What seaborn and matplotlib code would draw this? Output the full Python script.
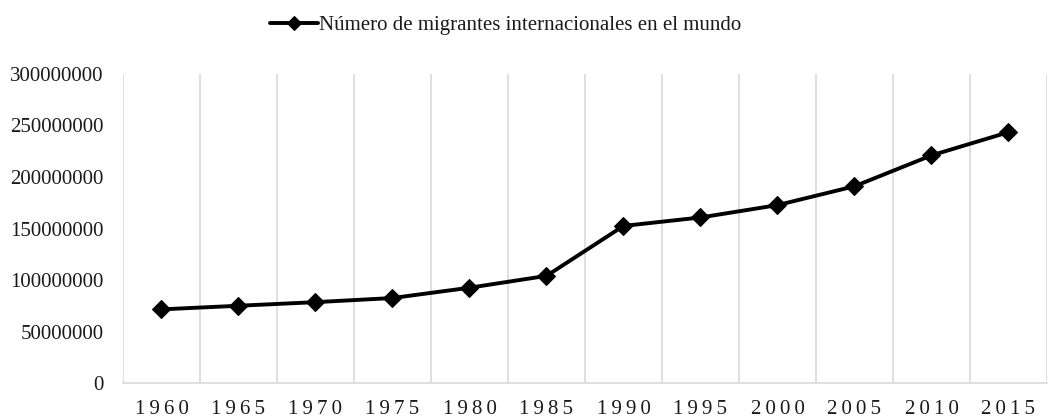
import matplotlib
matplotlib.use("Agg")
import matplotlib.pyplot as plt
import seaborn as sns
import pandas as pd
import numpy as np

years = ["1960", "1965", "1970", "1975", "1980", "1985",
         "1990", "1995", "2000", "2005", "2010", "2015"]
migrants = [71.5e6, 75.0e6, 78.5e6, 82.5e6, 92.5e6, 104e6,
            152.5e6, 160.7e6, 172.7e6, 191.0e6, 221.0e6, 243.5e6]
label = "Número de migrantes internacionales en el mundo"

sns.set_theme(style="white")
plt.rcParams["font.family"] = ["Liberation Serif", "DejaVu Serif"]

df = pd.DataFrame({"year": years, "migrants": migrants})

fig = plt.figure(figsize=(10.53, 4.19), dpi=100)
ax = fig.add_axes([0.1168, 0.0859, 0.8775, 0.7375])

sns.lineplot(data=df, x="year", y="migrants", ax=ax, color="black",
             linewidth=2.8, marker="D", markersize=9.5, label=label,
             markeredgecolor="black")

ax.set_xlim(-0.5, len(years) - 0.5)
ax.set_ylim(0, 300e6)
ax.set_yticks(np.arange(0, 300e6 + 1, 50e6))
ax.yaxis.set_major_formatter(matplotlib.ticker.FuncFormatter(lambda v, p: f"{int(v)}"))
ax.set_xticks(range(len(years)))
# letter-spaced year labels like the original
ax.set_xticklabels(["\u2009".join(y) for y in years])
ax.set_xticks(np.arange(-0.5, len(years)), minor=True)
ax.grid(False)
ax.grid(True, which="minor", axis="x", color="#d9d9d9", linewidth=1.2)
ax.tick_params(axis="both", which="both", length=0, labelsize=15, colors="#1a1a1a")
ax.tick_params(axis="x", pad=12)
ax.tick_params(axis="y", pad=14)
ax.set_xlabel("")
ax.set_ylabel("")
for side in ["left", "right", "top"]:
    ax.spines[side].set_visible(False)
ax.spines["bottom"].set_color("#d9d9d9")
ax.spines["bottom"].set_linewidth(1.2)

leg = ax.legend(loc="center", bbox_to_anchor=(0.4805, 0.94), bbox_transform=fig.transFigure,
                frameon=False, fontsize=15, handlelength=2.3, handletextpad=0.05,
                borderaxespad=0)
for t in leg.get_texts():
    t.set_color("#1a1a1a")
for h in leg.legend_handles:
    h.set_markersize(7)

fig.savefig("out.png", dpi=100)
